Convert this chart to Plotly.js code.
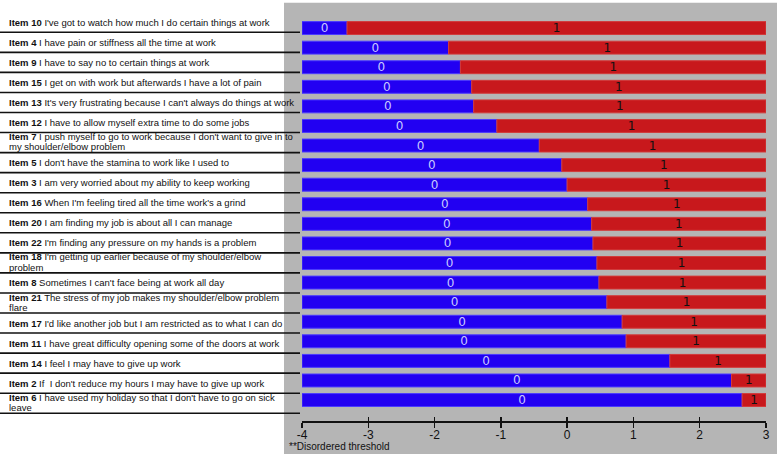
<!DOCTYPE html>
<html>
<head>
<meta charset="utf-8">
<script src="https://cdn.plot.ly/plotly-3.0.1.min.js"></script>
<style>html,body{margin:0;padding:0;background:#fff;}#chart{width:777px;height:454px;}</style>
</head>
<body>
<div id="chart"></div>
<script>
// ---- data ----
var itemIds = ["Item 10","Item 4","Item 9","Item 15","Item 13","Item 12","Item 7","Item 5","Item 3","Item 16",
               "Item 20","Item 22","Item 18","Item 8","Item 21","Item 17","Item 11","Item 14","Item 2","Item 6"];
var itemTexts = [
  ["I've got to watch how much I do certain things at work"],
  ["I have pain or stiffness all the time at work"],
  ["I have to say no to certain things at work"],
  ["I get on with work but afterwards I have a lot of pain"],
  ["It's very frustrating because I can't always do things at work"],
  ["I have to allow myself extra time to do some jobs"],
  ["I push myself to go to work because I don't want to give in to", "my shoulder/elbow problem"],
  ["I don't have the stamina to work like I used to"],
  ["I am very worried about my ability to keep working"],
  ["When I'm feeling tired all the time work's a grind"],
  ["I am finding my job is about all I can manage"],
  ["I'm finding any pressure on my hands is a problem"],
  ["I'm getting up earlier because of my shoulder/elbow", "problem"],
  ["Sometimes I can't face being at work all day"],
  ["The stress of my job makes my shoulder/elbow problem", "flare"],
  ["I'd like another job but I am restricted as to what I can do"],
  ["I have great difficulty opening some of the doors at work"],
  ["I feel I may have to give up work"],
  ["If  I don't reduce my hours I may have to give up work"],
  ["I have used my holiday so that I don't have to go on sick", "leave"]
];
var thresholds = [-3.32,-1.79,-1.61,-1.44,-1.41,-1.06,-0.42,-0.08,0.00,0.31,
                  0.37,0.39,0.45,0.48,0.60,0.83,0.89,1.55,2.48,2.64];
var categoryLabels = ["0","1"];
var scaleMin = -4, scaleMax = 3;
var tickVals = [-4,-3,-2,-1,0,1,2,3];
var tickText = ["-4","-3","-2","-1","0","1","2","3"];
var footnote = "**Disordered threshold";

// ---- geometry helpers ----
var W = 777, H = 454;
var M = {l:302, r:11, t:3, b:33};
var PW = W - M.l - M.r, PH = H - M.t - M.b;
function px2paperX(px){ return (px - M.l) / PW; }
function px2paperY(py){ return (H - M.b - py) / PH; }

var blueBase = thresholds.map(function(){ return scaleMin; });
var blueLen = thresholds.map(function(t){ return t - scaleMin; });
var redLen = thresholds.map(function(t){ return scaleMax - t; });

var BLUE = '#2200f2', RED = '#c8181c', GRAY = '#b5b5b5';
var LABEL_FONT = '"Liberation Sans", Arial, sans-serif';

var traces = [
  {type:'bar', orientation:'h', y:itemIds, x:blueLen, base:blueBase, width:0.66,
   marker:{color:BLUE, line:{color:'#4a3aff', width:1}},
   text:itemIds.map(function(){return categoryLabels[0];}), textposition:'inside', insidetextanchor:'middle',
   textangle:0, constraintext:'none',
   textfont:{color:'#c8c8ff', size:12, family:'"DejaVu Sans", Arial, sans-serif'},
   hoverinfo:'skip', showlegend:false},
  {type:'bar', orientation:'h', y:itemIds, x:redLen, base:thresholds, width:0.66,
   marker:{color:RED, line:{color:'#d23a3a', width:1}},
   text:itemIds.map(function(){return categoryLabels[1];}), textposition:'inside', insidetextanchor:'middle',
   textangle:0, constraintext:'none',
   textfont:{color:'#111111', size:12, family:'"DejaVu Sans", Arial, sans-serif'},
   hoverinfo:'skip', showlegend:false},
  {type:'scatter', x:[], y:[], xaxis:'x2', yaxis:'y', hoverinfo:'skip', showlegend:false}
];

var shapes = [];
var annotations = [];
// gray panel
shapes.push({type:'rect', xref:'paper', yref:'paper', layer:'below',
  x0:px2paperX(284), x1:px2paperX(777), y0:px2paperY(454), y1:px2paperY(2.7),
  fillcolor:GRAY, line:{width:0}});

// left labels and separator lines
var firstLine = 32.3, lineStep = 20.05;
itemIds.forEach(function(id, i){
  var ly = firstLine + lineStep * i;
  shapes.push({type:'line', xref:'paper', yref:'paper', layer:'above',
    x0:px2paperX(0), x1:px2paperX(300), y0:px2paperY(ly), y1:px2paperY(ly),
    line:{color:'#111', width:1.6}});
  var lines = itemTexts[i];
  var centers = lines.length === 1 ? [ly - 10] : [ly - 16, ly - 5.8];
  lines.forEach(function(t, k){
    annotations.push({xref:'paper', yref:'paper', x:px2paperX(6.5), y:px2paperY(centers[k]),
      xanchor:'left', yanchor:'middle', showarrow:false, align:'left',
      text:(k === 0 ? '<b>' + id + '</b> ' : '') + t,
      font:{family:LABEL_FONT, size:9.5, color:'#111'}});
  });
});

annotations.push({xref:'paper', yref:'paper', x:px2paperX(287), y:px2paperY(454),
  xanchor:'left', yanchor:'bottom', showarrow:false, text:footnote,
  font:{family:LABEL_FONT, size:10, color:'#111'}});

var layout = {
  width:W, height:H, margin:M,
  paper_bgcolor:'#ffffff', plot_bgcolor:'rgba(0,0,0,0)',
  barmode:'overlay', bargap:0,
  xaxis:{range:[scaleMin, scaleMax], tickvals:tickVals, ticktext:tickText, ticks:'outside', ticklen:5, tickwidth:1.5,
    tickcolor:'#111', showline:true, linecolor:'#111', linewidth:2, showgrid:false, zeroline:false,
    ticklabelstandoff:-3,
    tickfont:{family:LABEL_FONT, size:12, color:'#111'}, fixedrange:true},
  xaxis2:{range:[scaleMin, scaleMax], overlaying:'x', anchor:'y', side:'bottom', tickvals:tickVals,
    ticks:'inside', ticklen:4, tickwidth:1.5, tickcolor:'#111', showticklabels:false,
    showline:false, showgrid:false, zeroline:false},
  yaxis:{type:'category', categoryorder:'array', categoryarray:itemIds, range:[20.07, -1.28],
    showticklabels:false, ticks:'', showgrid:false, zeroline:false, showline:false, fixedrange:true},
  shapes:shapes, annotations:annotations, showlegend:false
};

Plotly.newPlot('chart', traces, layout, {staticPlot:true, displayModeBar:false});
</script>
</body>
</html>
